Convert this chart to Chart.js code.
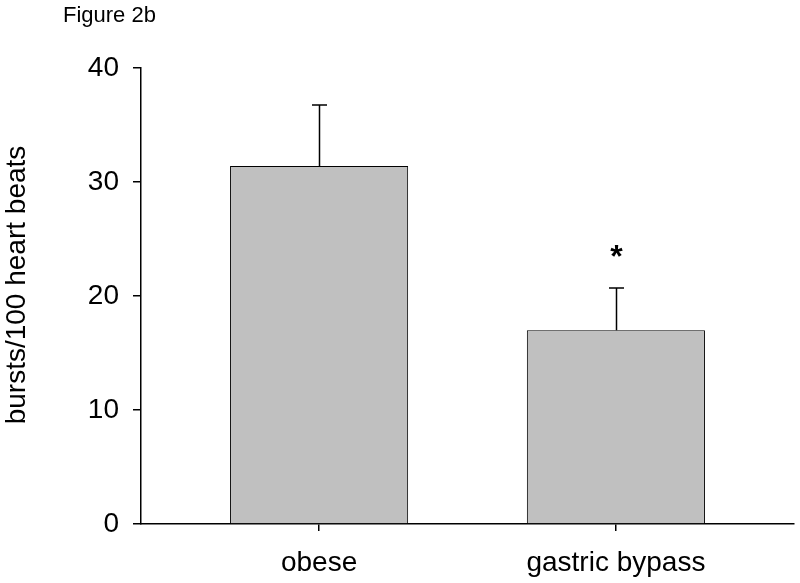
<!DOCTYPE html>
<html>
<head>
<meta charset="utf-8">
<script src="https://cdn.jsdelivr.net/npm/chart.js@4"></script>
<style>
html,body{margin:0;padding:0;background:#fff;}
canvas{display:block;}
</style>
</head>
<body>
<canvas id="c" width="800" height="583"></canvas>
<script>
const figureLabel = "Figure 2b";
const categories = ["obese", "gastric bypass"];
const means = [31.4, 17.0];
const errorUpper = [36.75, 20.7];
const significance = ["", "*"];
const yTicks = [0, 10, 20, 30, 40];
const yTitle = "bursts/100 heart beats";

const FONT = "'Liberation Sans', Arial, sans-serif";

const barData = categories.map((c, i) => ({ x: i + 1, y: means[i] }));

const extrasPlugin = {
  id: 'extras',
  afterDatasetsDraw(chart) {
    const ctx = chart.ctx;
    const xs = chart.scales.x, ys = chart.scales.y;
    ctx.save();
    ctx.strokeStyle = '#000';
    ctx.lineWidth = 1.5;
    categories.forEach((c, i) => {
      const px = Math.round(xs.getPixelForValue(i + 1)) + 0.5;
      const y0 = ys.getPixelForValue(means[i]);
      const y1 = ys.getPixelForValue(errorUpper[i]);
      ctx.beginPath();
      ctx.moveTo(px, y0);
      ctx.lineTo(px, y1);
      ctx.moveTo(px - 7.5, y1);
      ctx.lineTo(px + 7.5, y1);
      ctx.stroke();
      if (significance[i]) {
        ctx.fillStyle = '#000';
        ctx.font = "bold 32px " + FONT;
        ctx.textAlign = 'center';
        ctx.textBaseline = 'middle';
        ctx.fillText(significance[i], px, y1 - 30);
      }
    });
    ctx.fillStyle = '#000';
    ctx.font = "22px " + FONT;
    ctx.textAlign = 'left';
    ctx.textBaseline = 'alphabetic';
    ctx.fillText(figureLabel, 63, 22);
    // y-axis title
    ctx.save();
    ctx.translate(17, 285);
    ctx.rotate(-Math.PI / 2);
    ctx.font = "28px " + FONT;
    ctx.textAlign = 'center';
    ctx.textBaseline = 'middle';
    ctx.fillText(yTitle, 0, 0);
    ctx.restore();
    ctx.restore();
  }
};

new Chart(document.getElementById('c'), {
  type: 'bar',
  data: {
    datasets: [{
      data: barData,
      backgroundColor: '#c0c0c0',
      borderColor: '#000',
      borderWidth: 1,
      barPercentage: 0.6,
      categoryPercentage: 1.0
    }]
  },
  options: {
    responsive: false,
    animation: false,
    devicePixelRatio: 1,
    layout: { padding: { left: 0, right: 6, top: 68, bottom: 0 } },
    plugins: { legend: { display: false }, tooltip: { enabled: false } },
    scales: {
      x: {
        type: 'linear',
        offset: false,
        min: 0.4,
        max: 2.6,
        afterBuildTicks(scale) {
          scale.ticks = categories.map((c, i) => ({ value: i + 1 }));
        },
        afterFit(scale) { scale.height = 59; },
        ticks: {
          callback: (v) => categories[Math.round(v) - 1] || '',
          color: '#000',
          font: { family: FONT, size: 28 },
          padding: 15,
          maxRotation: 0,
          autoSkip: false
        },
        grid: { offset: false, drawOnChartArea: false, tickLength: 7, color: '#000', lineWidth: 1.5 },
        border: { color: '#000', width: 1.5 }
      },
      y: {
        min: 0,
        max: 40,
        afterBuildTicks(scale) {
          scale.ticks = yTicks.map(v => ({ value: v }));
        },
        afterFit(scale) { scale.width = 141; },
        ticks: {
          color: '#000',
          font: { family: FONT, size: 28 },
          padding: 14
        },
        grid: { drawOnChartArea: false, tickLength: 8, color: '#000', lineWidth: 1.5 },
        border: { color: '#000', width: 1.5 },
        title: { display: false }
      }
    }
  },
  plugins: [extrasPlugin]
});
</script>
</body>
</html>
